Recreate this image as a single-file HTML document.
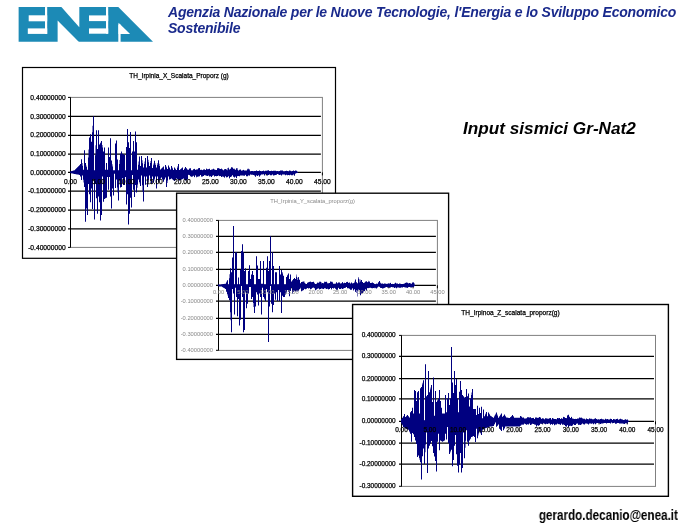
<!DOCTYPE html>
<html><head><meta charset="utf-8"><title>Input sismici Gr-Nat2</title>
<style>
html,body{margin:0;padding:0;background:#fff;}
body{width:700px;height:525px;position:relative;overflow:hidden;font-family:"Liberation Sans",sans-serif;}
.logo{position:absolute;left:0;top:0;}
.hdr{position:absolute;left:168px;top:5.1px;width:520px;font-size:14px;line-height:15.6px;letter-spacing:-0.22px;font-weight:bold;font-style:italic;color:#1a2a8c;white-space:nowrap;}
.ttl{position:absolute;left:463px;top:117.7px;font-size:17.2px;line-height:20px;font-weight:bold;font-style:italic;color:#000;white-space:nowrap;}
.ftr{position:absolute;right:21.7px;top:507.2px;font-size:14px;line-height:16px;font-weight:bold;color:#000;white-space:nowrap;transform:scaleX(0.833);transform-origin:100% 50%;}
.charts{position:absolute;left:0;top:0;}
.hdr,.ttl,.ftr,.charts,.logo{will-change:transform;}
.charts text{font-family:"Liberation Sans",sans-serif;}
</style></head><body>
<svg class="logo" width="160" height="50" viewBox="0 0 160 50">
<path d="M18.6 7.05H118.3L153 41.7H18.6z" fill="#1c8ab6"/>
<g fill="#fff">
<rect x="28.7" y="15.3" width="18.5" height="6"/>
<rect x="27.8" y="28.4" width="19.4" height="5.5"/>
<rect x="45" y="7.05" width="2.2" height="26.85"/>
<path d="M57.6 20.4V42.3H79.2z"/>
<path d="M61.4 7.05H79.3V27.2z"/>
<rect x="89" y="15.4" width="19.2" height="5.7"/>
<rect x="89" y="28.4" width="19.2" height="5.3"/>
<rect x="106" y="7.05" width="2.2" height="26.65"/>
<path d="M118.5 22.7V34.1H130.1z"/>
<rect x="118.3" y="24.5" width="2.3" height="17.8"/>
</g></svg>
<div class="hdr">Agenzia Nazionale per le Nuove Tecnologie, l'Energia e lo Sviluppo Economico<br>Sostenibile</div>
<div class="ttl">Input sismici Gr-Nat2</div>
<svg class="charts" width="700" height="525" viewBox="0 0 700 525">
<rect x="22.5" y="67.5" width="313.0" height="190.8" fill="#fff" stroke="#000" stroke-width="1.20"/>
<rect x="70.5" y="97.4" width="251.9" height="150.0" fill="none" stroke="#808080" stroke-width="1"/>
<line x1="68.0" y1="97.40" x2="70.5" y2="97.40" stroke="#000" stroke-width="1"/>
<text x="65.7" y="99.51" text-anchor="end" font-size="6.70" fill="#000" stroke="#000" stroke-width="0.25">0.40000000</text>
<line x1="68.0" y1="116.40" x2="320.9" y2="116.40" stroke="#000" stroke-width="1.25"/>
<text x="65.7" y="118.51" text-anchor="end" font-size="6.70" fill="#000" stroke="#000" stroke-width="0.25">0.30000000</text>
<line x1="68.0" y1="135.30" x2="320.9" y2="135.30" stroke="#000" stroke-width="1.25"/>
<text x="65.7" y="137.41" text-anchor="end" font-size="6.70" fill="#000" stroke="#000" stroke-width="0.25">0.20000000</text>
<line x1="68.0" y1="154.10" x2="320.9" y2="154.10" stroke="#000" stroke-width="1.25"/>
<text x="65.7" y="156.21" text-anchor="end" font-size="6.70" fill="#000" stroke="#000" stroke-width="0.25">0.10000000</text>
<line x1="68.0" y1="172.40" x2="320.9" y2="172.40" stroke="#000" stroke-width="1.25"/>
<text x="65.7" y="174.51" text-anchor="end" font-size="6.70" fill="#000" stroke="#000" stroke-width="0.25">0.00000000</text>
<line x1="68.0" y1="191.10" x2="320.9" y2="191.10" stroke="#000" stroke-width="1.25"/>
<text x="65.7" y="193.21" text-anchor="end" font-size="6.70" fill="#000" stroke="#000" stroke-width="0.25">-0.10000000</text>
<line x1="68.0" y1="210.00" x2="320.9" y2="210.00" stroke="#000" stroke-width="1.25"/>
<text x="65.7" y="212.11" text-anchor="end" font-size="6.70" fill="#000" stroke="#000" stroke-width="0.25">-0.20000000</text>
<line x1="68.0" y1="228.90" x2="320.9" y2="228.90" stroke="#000" stroke-width="1.25"/>
<text x="65.7" y="231.01" text-anchor="end" font-size="6.70" fill="#000" stroke="#000" stroke-width="0.25">-0.30000000</text>
<line x1="68.0" y1="247.40" x2="70.5" y2="247.40" stroke="#000" stroke-width="1"/>
<text x="65.7" y="249.51" text-anchor="end" font-size="6.70" fill="#000" stroke="#000" stroke-width="0.25">-0.40000000</text>
<line x1="70.5" y1="97.4" x2="70.5" y2="247.4" stroke="#000" stroke-width="1"/>
<line x1="70.50" y1="172.40" x2="70.50" y2="175.40" stroke="#000" stroke-width="1"/>
<line x1="98.49" y1="172.40" x2="98.49" y2="175.40" stroke="#000" stroke-width="1"/>
<line x1="126.48" y1="172.40" x2="126.48" y2="175.40" stroke="#000" stroke-width="1"/>
<line x1="154.47" y1="172.40" x2="154.47" y2="175.40" stroke="#000" stroke-width="1"/>
<line x1="182.46" y1="172.40" x2="182.46" y2="175.40" stroke="#000" stroke-width="1"/>
<line x1="210.44" y1="172.40" x2="210.44" y2="175.40" stroke="#000" stroke-width="1"/>
<line x1="238.43" y1="172.40" x2="238.43" y2="175.40" stroke="#000" stroke-width="1"/>
<line x1="266.42" y1="172.40" x2="266.42" y2="175.40" stroke="#000" stroke-width="1"/>
<line x1="294.41" y1="172.40" x2="294.41" y2="175.40" stroke="#000" stroke-width="1"/>
<line x1="322.40" y1="172.40" x2="322.40" y2="175.40" stroke="#000" stroke-width="1"/>
<text x="179.0" y="78.34" text-anchor="middle" font-size="6.50" fill="#000" stroke="#000" stroke-width="0.25" textLength="99.4" lengthAdjust="spacingAndGlyphs">TH_Irpinia_X_Scalata_Proporz (g)</text>
<path d="M70.0 171.4h0.5V173.1h-0.5zM70.5 171.4h0.5V173.1h-0.5zM71.0 171.2h0.5V173.3h-0.5zM71.5 171.1h0.5V173.4h-0.5zM72.0 170.9h0.5V173.5h-0.5zM72.5 170.8h0.5V173.6h-0.5zM73.0 170.6h0.5V173.7h-0.5zM73.5 170.5h0.5V173.8h-0.5zM74.0 170.3h0.5V173.9h-0.5zM74.5 170.3h0.5V173.9h-0.5zM75.0 169.5h0.5V174.1h-0.5zM75.5 169.0h0.5V174.2h-0.5zM76.0 168.5h0.5V174.3h-0.5zM76.5 168.0h0.5V174.4h-0.5zM77.0 167.5h0.5V174.4h-0.5zM77.5 167.0h0.5V174.5h-0.5zM78.0 166.3h0.5V174.6h-0.5zM78.5 166.3h0.5V174.7h-0.5zM79.0 165.4h0.5V174.9h-0.5zM79.5 164.9h0.5V174.9h-0.5zM80.0 164.0h0.5V176.6h-0.5zM80.5 164.0h0.5V176.6h-0.5zM81.0 159.2h0.5V180.0h-0.5zM81.5 159.2h0.5V180.0h-0.5zM82.0 163.1h0.5V175.4h-0.5zM82.5 165.8h0.5V175.4h-0.5zM83.0 169.7h0.5V179.7h-0.5zM83.5 169.7h0.5V182.6h-0.5zM84.0 150.3h0.5V186.9h-0.5zM84.5 150.3h0.5V186.9h-0.5zM85.0 162.9h0.5V221.7h-0.5zM85.5 162.9h0.5V221.7h-0.5zM86.0 165.4h0.5V208.6h-0.5zM86.5 167.1h0.5V208.6h-0.5zM87.0 169.7h0.5V214.9h-0.5zM87.5 169.7h0.5V214.9h-0.5zM88.0 157.6h0.5V184.0h-0.5zM88.5 149.6h0.5V184.0h-0.5zM89.0 137.5h0.5V194.3h-0.5zM89.5 137.5h0.5V194.3h-0.5zM90.0 134.3h0.5V202.3h-0.5zM90.5 134.3h0.5V202.3h-0.5zM91.0 141.7h0.5V188.6h-0.5zM91.5 141.7h0.5V188.6h-0.5zM92.0 132.2h0.5V209.1h-0.5zM92.5 125.8h0.5V209.1h-0.5zM93.0 116.2h0.5V179.4h-0.5zM93.5 116.2h0.5V179.4h-0.5zM94.0 170.3h0.5V219.4h-0.5zM94.5 170.3h0.5V219.4h-0.5zM95.0 155.3h0.5V184.0h-0.5zM95.5 145.3h0.5V184.0h-0.5zM96.0 130.3h0.5V198.3h-0.5zM96.5 130.3h0.5V198.3h-0.5zM97.0 149.1h0.5V213.7h-0.5zM97.5 149.1h0.5V213.7h-0.5zM98.0 130.3h0.5V196.6h-0.5zM98.5 130.3h0.5V196.6h-0.5zM99.0 144.6h0.5V202.3h-0.5zM99.5 144.6h0.5V202.3h-0.5zM100.0 143.3h0.5V220.6h-0.5zM100.5 142.4h0.5V220.6h-0.5zM101.0 141.1h0.5V214.9h-0.5zM101.5 141.1h0.5V214.9h-0.5zM102.0 145.0h0.5V176.6h-0.5zM102.5 147.6h0.5V176.6h-0.5zM103.0 151.4h0.5V201.7h-0.5zM103.5 151.4h0.5V201.7h-0.5zM104.0 147.4h0.5V198.9h-0.5zM104.5 147.4h0.5V198.9h-0.5zM105.0 169.7h0.5V198.4h-0.5zM105.5 169.7h0.5V198.1h-0.5zM106.0 162.9h0.5V197.7h-0.5zM106.5 162.9h0.5V197.7h-0.5zM107.0 169.7h0.5V177.1h-0.5zM107.5 169.7h0.5V177.1h-0.5zM108.0 147.4h0.5V189.7h-0.5zM108.5 147.4h0.5V189.7h-0.5zM109.0 157.1h0.5V177.1h-0.5zM109.5 157.1h0.5V177.1h-0.5zM110.0 138.3h0.5V196.6h-0.5zM110.5 138.3h0.5V196.6h-0.5zM111.0 160.6h0.5V208.6h-0.5zM111.5 160.6h0.5V208.6h-0.5zM112.0 164.2h0.5V188.6h-0.5zM112.5 166.6h0.5V188.6h-0.5zM113.0 170.3h0.5V195.4h-0.5zM113.5 170.3h0.5V195.4h-0.5zM114.0 170.3h0.5V173.7h-0.5zM114.5 170.3h0.5V173.7h-0.5zM115.0 143.4h0.5V188.0h-0.5zM115.5 143.4h0.5V188.0h-0.5zM116.0 140.6h0.5V179.4h-0.5zM116.5 140.6h0.5V179.4h-0.5zM117.0 159.4h0.5V187.4h-0.5zM117.5 159.4h0.5V192.6h-0.5zM118.0 170.3h0.5V200.6h-0.5zM118.5 170.3h0.5V200.6h-0.5zM119.0 164.1h0.5V180.6h-0.5zM119.5 159.9h0.5V180.6h-0.5zM120.0 153.7h0.5V187.4h-0.5zM120.5 153.7h0.5V187.4h-0.5zM121.0 151.4h0.5V186.9h-0.5zM121.5 151.4h0.5V186.9h-0.5zM122.0 153.7h0.5V178.3h-0.5zM122.5 153.7h0.5V178.3h-0.5zM123.0 154.1h0.5V185.1h-0.5zM123.5 154.4h0.5V185.1h-0.5zM124.0 154.9h0.5V185.1h-0.5zM124.5 154.9h0.5V185.1h-0.5zM125.0 170.3h0.5V177.1h-0.5zM125.5 170.3h0.5V177.1h-0.5zM126.0 146.9h0.5V204.6h-0.5zM126.5 146.9h0.5V204.6h-0.5zM127.0 129.1h0.5V194.3h-0.5zM127.5 129.1h0.5V194.3h-0.5zM128.0 142.3h0.5V224.6h-0.5zM128.5 142.3h0.5V224.6h-0.5zM129.0 148.0h0.5V213.7h-0.5zM129.5 148.0h0.5V213.7h-0.5zM130.0 132.0h0.5V197.7h-0.5zM130.5 132.0h0.5V197.7h-0.5zM131.0 170.3h0.5V207.4h-0.5zM131.5 170.3h0.5V207.4h-0.5zM132.0 151.4h0.5V174.9h-0.5zM132.5 151.4h0.5V174.9h-0.5zM133.0 141.1h0.5V189.7h-0.5zM133.5 141.1h0.5V189.7h-0.5zM134.0 151.4h0.5V197.1h-0.5zM134.5 151.4h0.5V197.1h-0.5zM135.0 131.4h0.5V185.1h-0.5zM135.5 131.4h0.5V185.1h-0.5zM136.0 142.3h0.5V192.6h-0.5zM136.5 142.3h0.5V192.6h-0.5zM137.0 169.7h0.5V187.7h-0.5zM137.5 169.7h0.5V184.4h-0.5zM138.0 164.8h0.5V179.6h-0.5zM138.5 161.5h0.5V179.6h-0.5zM139.0 156.5h0.5V181.9h-0.5zM139.5 156.5h0.5V183.5h-0.5zM140.0 166.0h0.5V185.9h-0.5zM140.5 166.0h0.5V185.9h-0.5zM141.0 156.0h0.5V175.4h-0.5zM141.5 156.0h0.5V175.4h-0.5zM142.0 160.3h0.5V185.2h-0.5zM142.5 163.2h0.5V191.8h-0.5zM143.0 167.5h0.5V201.6h-0.5zM143.5 167.5h0.5V201.6h-0.5zM144.0 164.0h0.5V176.4h-0.5zM144.5 161.6h0.5V176.4h-0.5zM145.0 158.1h0.5V184.8h-0.5zM145.5 158.1h0.5V184.8h-0.5zM146.0 167.5h0.5V176.4h-0.5zM146.5 167.5h0.5V176.4h-0.5zM147.0 156.0h0.5V186.9h-0.5zM147.5 156.0h0.5V186.9h-0.5zM148.0 159.7h0.5V182.6h-0.5zM148.5 162.2h0.5V179.7h-0.5zM149.0 166.0h0.5V175.4h-0.5zM149.5 166.0h0.5V175.4h-0.5zM150.0 163.0h0.5V178.5h-0.5zM150.5 161.0h0.5V180.6h-0.5zM151.0 158.1h0.5V183.8h-0.5zM151.5 158.1h0.5V183.8h-0.5zM152.0 168.0h0.5V176.4h-0.5zM152.5 168.0h0.5V176.4h-0.5zM153.0 165.3h0.5V182.7h-0.5zM153.5 163.5h0.5V182.7h-0.5zM154.0 160.7h0.5V180.4h-0.5zM154.5 160.7h0.5V178.8h-0.5zM155.0 163.3h0.5V176.4h-0.5zM155.5 165.0h0.5V176.4h-0.5zM156.0 167.5h0.5V188.5h-0.5zM156.5 167.5h0.5V188.5h-0.5zM157.0 164.8h0.5V176.4h-0.5zM157.5 162.9h0.5V176.4h-0.5zM158.0 160.2h0.5V181.7h-0.5zM158.5 160.2h0.5V181.7h-0.5zM159.0 163.7h0.5V180.6h-0.5zM159.5 166.1h0.5V179.9h-0.5zM160.0 169.6h0.5V179.2h-0.5zM160.5 169.6h0.5V178.5h-0.5zM161.0 168.8h0.5V177.5h-0.5zM161.5 168.3h0.5V177.5h-0.5zM162.0 167.8h0.5V179.0h-0.5zM162.5 167.3h0.5V180.1h-0.5zM163.0 166.5h0.5V181.7h-0.5zM163.5 166.5h0.5V181.7h-0.5zM164.0 169.6h0.5V180.1h-0.5zM164.5 169.6h0.5V179.0h-0.5zM165.0 164.9h0.5V177.5h-0.5zM165.5 164.9h0.5V177.5h-0.5zM166.0 166.5h0.5V186.9h-0.5zM166.5 167.5h0.5V186.9h-0.5zM167.0 169.1h0.5V183.0h-0.5zM167.5 169.1h0.5V180.4h-0.5zM168.0 165.4h0.5V176.4h-0.5zM168.5 165.4h0.5V176.4h-0.5zM169.0 167.0h0.5V179.6h-0.5zM169.5 168.0h0.5V179.6h-0.5zM170.0 169.6h0.5V179.2h-0.5zM170.5 169.6h0.5V178.9h-0.5zM171.0 166.0h0.5V178.5h-0.5zM171.5 166.0h0.5V178.5h-0.5zM172.0 167.5h0.5V179.2h-0.5zM172.5 168.6h0.5V179.6h-0.5zM173.0 170.1h0.5V180.1h-0.5zM173.5 170.1h0.5V180.5h-0.5zM174.0 167.5h0.5V181.1h-0.5zM174.5 167.5h0.5V181.1h-0.5zM175.0 168.5h0.5V180.2h-0.5zM175.5 169.2h0.5V179.5h-0.5zM176.0 170.1h0.5V178.5h-0.5zM176.5 170.1h0.5V178.5h-0.5zM177.0 167.8h0.5V179.0h-0.5zM177.5 166.2h0.5V179.4h-0.5zM178.0 163.9h0.5V179.7h-0.5zM178.5 163.9h0.5V180.1h-0.5zM179.0 170.1h0.5V180.6h-0.5zM179.5 170.1h0.5V180.6h-0.5zM180.0 169.5h0.5V180.2h-0.5zM180.5 169.1h0.5V180.0h-0.5zM181.0 168.6h0.5V179.7h-0.5zM181.5 168.2h0.5V179.4h-0.5zM182.0 167.5h0.5V179.2h-0.5zM182.5 167.5h0.5V178.9h-0.5zM183.0 170.1h0.5V178.5h-0.5zM183.5 170.1h0.5V178.5h-0.5zM184.0 169.0h0.5V179.3h-0.5zM184.5 168.2h0.5V179.8h-0.5zM185.0 167.0h0.5V180.6h-0.5zM185.5 167.0h0.5V180.6h-0.5zM186.0 168.0h0.5V180.2h-0.5zM186.5 168.6h0.5V180.0h-0.5zM187.0 169.6h0.5V179.6h-0.5zM187.5 169.4h0.5V179.6h-0.5zM188.0 170.1h0.5V174.7h-0.5zM188.5 169.6h0.5V175.0h-0.5zM189.0 168.7h0.5V175.1h-0.5zM189.5 168.3h0.5V175.3h-0.5zM190.0 168.2h0.5V176.1h-0.5zM190.5 168.2h0.5V176.4h-0.5zM191.0 170.0h0.5V176.8h-0.5zM191.5 170.5h0.5V176.8h-0.5zM192.0 170.5h0.5V176.6h-0.5zM192.5 170.0h0.5V176.6h-0.5zM193.0 169.3h0.5V175.7h-0.5zM193.5 169.3h0.5V175.7h-0.5zM194.0 168.8h0.5V177.3h-0.5zM194.5 169.0h0.5V177.1h-0.5zM195.0 169.8h0.5V175.5h-0.5zM195.5 170.0h0.5V175.2h-0.5zM196.0 169.6h0.5V176.7h-0.5zM196.5 169.6h0.5V177.5h-0.5zM197.0 169.5h0.5V176.6h-0.5zM197.5 169.3h0.5V177.0h-0.5zM198.0 168.4h0.5V176.4h-0.5zM198.5 168.1h0.5V176.4h-0.5zM199.0 168.1h0.5V176.4h-0.5zM199.5 168.1h0.5V176.0h-0.5zM200.0 169.7h0.5V175.0h-0.5zM200.5 169.9h0.5V175.0h-0.5zM201.0 169.7h0.5V176.6h-0.5zM201.5 169.8h0.5V176.8h-0.5zM202.0 170.1h0.5V176.5h-0.5zM202.5 170.3h0.5V176.5h-0.5zM203.0 169.6h0.5V175.9h-0.5zM203.5 169.4h0.5V175.9h-0.5zM204.0 169.4h0.5V175.2h-0.5zM204.5 169.3h0.5V175.1h-0.5zM205.0 170.1h0.5V175.4h-0.5zM205.5 170.0h0.5V175.3h-0.5zM206.0 168.7h0.5V175.7h-0.5zM206.5 168.6h0.5V175.7h-0.5zM207.0 169.2h0.5V175.9h-0.5zM207.5 169.2h0.5V175.9h-0.5zM208.0 169.1h0.5V175.5h-0.5zM208.5 169.2h0.5V175.5h-0.5zM209.0 168.7h0.5V176.4h-0.5zM209.5 168.8h0.5V176.4h-0.5zM210.0 169.9h0.5V176.2h-0.5zM210.5 170.0h0.5V176.3h-0.5zM211.0 169.6h0.5V177.0h-0.5zM211.5 169.8h0.5V177.1h-0.5zM212.0 169.5h0.5V175.8h-0.5zM212.5 169.3h0.5V175.7h-0.5zM213.0 168.8h0.5V175.3h-0.5zM213.5 168.7h0.5V175.3h-0.5zM214.0 169.6h0.5V176.6h-0.5zM214.5 169.5h0.5V176.6h-0.5zM215.0 169.9h0.5V176.0h-0.5zM215.5 169.8h0.5V175.9h-0.5zM216.0 170.0h0.5V176.2h-0.5zM216.5 169.9h0.5V176.2h-0.5zM217.0 168.3h0.5V175.9h-0.5zM217.5 168.3h0.5V175.9h-0.5zM218.0 168.1h0.5V175.5h-0.5zM218.5 168.2h0.5V175.5h-0.5zM219.0 168.6h0.5V176.1h-0.5zM219.5 168.7h0.5V176.2h-0.5zM220.0 169.0h0.5V175.9h-0.5zM220.5 169.0h0.5V176.0h-0.5zM221.0 168.6h0.5V177.0h-0.5zM221.5 168.7h0.5V177.1h-0.5zM222.0 169.4h0.5V176.5h-0.5zM222.5 169.5h0.5V176.6h-0.5zM223.0 170.2h0.5V176.7h-0.5zM223.5 170.2h0.5V176.7h-0.5zM224.0 169.2h0.5V177.6h-0.5zM224.5 169.2h0.5V177.8h-0.5zM225.0 168.9h0.5V176.2h-0.5zM225.5 168.9h0.5V176.3h-0.5zM226.0 169.6h0.5V177.3h-0.5zM226.5 169.6h0.5V177.5h-0.5zM227.0 170.2h0.5V177.0h-0.5zM227.5 168.0h0.5V177.2h-0.5zM228.0 167.5h0.5V176.2h-0.5zM228.5 168.2h0.5V176.3h-0.5zM229.0 169.4h0.5V178.3h-0.5zM229.5 169.4h0.5V178.5h-0.5zM230.0 168.9h0.5V177.0h-0.5zM230.5 168.4h0.5V177.0h-0.5zM231.0 167.6h0.5V176.5h-0.5zM231.5 167.1h0.5V176.5h-0.5zM232.0 167.4h0.5V175.2h-0.5zM232.5 167.4h0.5V175.2h-0.5zM233.0 168.7h0.5V176.5h-0.5zM233.5 168.7h0.5V176.9h-0.5zM234.0 168.6h0.5V177.2h-0.5zM234.5 169.3h0.5V177.7h-0.5zM235.0 170.1h0.5V176.6h-0.5zM235.5 169.4h0.5V176.7h-0.5zM236.0 168.2h0.5V178.1h-0.5zM236.5 168.2h0.5V178.3h-0.5zM237.0 168.1h0.5V176.3h-0.5zM237.5 169.8h0.5V176.1h-0.5zM238.0 170.7h0.5V176.1h-0.5zM238.5 170.3h0.5V175.9h-0.5zM239.0 169.8h0.5V176.2h-0.5zM239.5 169.8h0.5V176.2h-0.5zM240.0 169.4h0.5V175.5h-0.5zM240.5 169.6h0.5V175.4h-0.5zM241.0 170.6h0.5V175.6h-0.5zM241.5 170.7h0.5V175.5h-0.5zM242.0 170.3h0.5V175.6h-0.5zM242.5 170.5h0.5V175.4h-0.5zM243.0 169.8h0.5V175.6h-0.5zM243.5 169.9h0.5V175.7h-0.5zM244.0 170.5h0.5V175.7h-0.5zM244.5 170.6h0.5V175.8h-0.5zM245.0 170.5h0.5V174.8h-0.5zM245.5 170.6h0.5V174.9h-0.5zM246.0 170.4h0.5V176.3h-0.5zM246.5 170.4h0.5V176.3h-0.5zM247.0 169.4h0.5V176.2h-0.5zM247.5 168.8h0.5V176.2h-0.5zM248.0 169.2h0.5V175.4h-0.5zM248.5 168.4h0.5V175.3h-0.5zM249.0 169.1h0.5V175.7h-0.5zM249.5 170.2h0.5V175.6h-0.5zM250.0 171.2h0.5V174.6h-0.5zM250.5 171.2h0.5V174.6h-0.5zM251.0 171.1h0.5V174.7h-0.5zM251.5 171.0h0.5V174.8h-0.5zM252.0 170.9h0.5V174.7h-0.5zM252.5 170.9h0.5V174.7h-0.5zM253.0 171.2h0.5V175.0h-0.5zM253.5 171.2h0.5V175.0h-0.5zM254.0 171.1h0.5V175.5h-0.5zM254.5 171.1h0.5V175.6h-0.5zM255.0 171.1h0.5V176.7h-0.5zM255.5 171.1h0.5V176.8h-0.5zM256.0 170.5h0.5V175.3h-0.5zM256.5 170.5h0.5V175.4h-0.5zM257.0 170.9h0.5V175.9h-0.5zM257.5 170.9h0.5V175.9h-0.5zM258.0 170.9h0.5V175.3h-0.5zM258.5 170.9h0.5V175.2h-0.5zM259.0 170.5h0.5V176.7h-0.5zM259.5 170.5h0.5V176.5h-0.5zM260.0 170.9h0.5V175.4h-0.5zM260.5 170.9h0.5V175.3h-0.5zM261.0 171.3h0.5V174.5h-0.5zM261.5 171.3h0.5V174.4h-0.5zM262.0 171.1h0.5V174.5h-0.5zM262.5 171.1h0.5V174.5h-0.5zM263.0 170.7h0.5V174.3h-0.5zM263.5 170.6h0.5V174.3h-0.5zM264.0 171.3h0.5V175.4h-0.5zM264.5 171.3h0.5V175.4h-0.5zM265.0 170.8h0.5V174.3h-0.5zM265.5 170.7h0.5V174.3h-0.5zM266.0 170.7h0.5V174.1h-0.5zM266.5 170.7h0.5V174.1h-0.5zM267.0 170.6h0.5V175.4h-0.5zM267.5 170.6h0.5V175.4h-0.5zM268.0 170.2h0.5V175.1h-0.5zM268.5 170.3h0.5V175.1h-0.5zM269.0 170.9h0.5V174.6h-0.5zM269.5 171.0h0.5V174.6h-0.5zM270.0 171.1h0.5V175.2h-0.5zM270.5 171.1h0.5V175.2h-0.5zM271.0 170.8h0.5V175.2h-0.5zM271.5 170.8h0.5V175.2h-0.5zM272.0 171.1h0.5V174.4h-0.5zM272.5 171.1h0.5V174.4h-0.5zM273.0 170.8h0.5V175.5h-0.5zM273.5 170.8h0.5V175.5h-0.5zM274.0 170.7h0.5V175.2h-0.5zM274.5 170.7h0.5V175.2h-0.5zM275.0 170.7h0.5V175.1h-0.5zM275.5 170.7h0.5V175.1h-0.5zM276.0 171.2h0.5V174.8h-0.5zM276.5 171.1h0.5V174.8h-0.5zM277.0 171.0h0.5V174.1h-0.5zM277.5 171.0h0.5V174.1h-0.5zM278.0 171.3h0.5V174.5h-0.5zM278.5 171.3h0.5V174.5h-0.5zM279.0 171.0h0.5V175.1h-0.5zM279.5 171.0h0.5V175.1h-0.5zM280.0 170.4h0.5V174.7h-0.5zM280.5 170.5h0.5V174.7h-0.5zM281.0 170.5h0.5V175.5h-0.5zM281.5 170.6h0.5V175.5h-0.5zM282.0 170.6h0.5V174.6h-0.5zM282.5 170.6h0.5V174.6h-0.5zM283.0 171.2h0.5V174.4h-0.5zM283.5 171.3h0.5V174.4h-0.5zM284.0 171.3h0.5V174.4h-0.5zM284.5 171.3h0.5V174.4h-0.5zM285.0 171.0h0.5V175.3h-0.5zM285.5 171.0h0.5V175.3h-0.5zM286.0 170.8h0.5V174.8h-0.5zM286.5 170.8h0.5V174.8h-0.5zM287.0 170.9h0.5V175.2h-0.5zM287.5 170.9h0.5V175.2h-0.5zM288.0 171.3h0.5V175.0h-0.5zM288.5 171.3h0.5V175.0h-0.5zM289.0 170.6h0.5V175.2h-0.5zM289.5 170.6h0.5V175.2h-0.5zM290.0 170.7h0.5V174.8h-0.5zM290.5 170.7h0.5V174.8h-0.5zM291.0 171.2h0.5V175.2h-0.5zM291.5 171.2h0.5V175.2h-0.5zM292.0 171.0h0.5V175.2h-0.5zM292.5 171.0h0.5V175.2h-0.5zM293.0 170.4h0.5V174.6h-0.5zM293.5 170.4h0.5V174.6h-0.5zM294.0 170.9h0.5V175.4h-0.5zM294.5 170.9h0.5V175.4h-0.5zM295.0 170.6h0.5V173.8h-0.5zM295.5 170.6h0.5V173.5h-0.5zM296.0 170.8h0.5V173.2h-0.5zM296.5 170.8h0.5V173.0h-0.5zM297.0 171.8h0.5V173.0h-0.5zM297.5 171.8h0.5V173.0h-0.5z" fill="#000080"/>
<text x="70.50" y="183.81" text-anchor="middle" font-size="6.70" fill="#000" stroke="#000" stroke-width="0.25">0.00</text>
<text x="98.49" y="183.81" text-anchor="middle" font-size="6.70" fill="#000" stroke="#000" stroke-width="0.25">5.00</text>
<text x="126.48" y="183.81" text-anchor="middle" font-size="6.70" fill="#000" stroke="#000" stroke-width="0.25">10.00</text>
<text x="154.47" y="183.81" text-anchor="middle" font-size="6.70" fill="#000" stroke="#000" stroke-width="0.25">15.00</text>
<text x="182.46" y="183.81" text-anchor="middle" font-size="6.70" fill="#000" stroke="#000" stroke-width="0.25">20.00</text>
<text x="210.44" y="183.81" text-anchor="middle" font-size="6.70" fill="#000" stroke="#000" stroke-width="0.25">25.00</text>
<text x="238.43" y="183.81" text-anchor="middle" font-size="6.70" fill="#000" stroke="#000" stroke-width="0.25">30.00</text>
<text x="266.42" y="183.81" text-anchor="middle" font-size="6.70" fill="#000" stroke="#000" stroke-width="0.25">35.00</text>
<text x="294.41" y="183.81" text-anchor="middle" font-size="6.70" fill="#000" stroke="#000" stroke-width="0.25">40.00</text>
<text x="322.40" y="183.81" text-anchor="middle" font-size="6.70" fill="#000" stroke="#000" stroke-width="0.25">45.00</text>
<rect x="176.6" y="193.2" width="272.0" height="166.2" fill="#fff" stroke="#000" stroke-width="1.35"/>
<rect x="218.5" y="220.4" width="218.9" height="130.0" fill="none" stroke="#808080" stroke-width="1"/>
<line x1="216.0" y1="220.40" x2="218.5" y2="220.40" stroke="#000" stroke-width="1"/>
<text x="213.0" y="222.17" text-anchor="end" font-size="5.75" fill="#888">0.40000000</text>
<line x1="216.0" y1="236.40" x2="435.9" y2="236.40" stroke="#000" stroke-width="1.25"/>
<text x="213.0" y="238.17" text-anchor="end" font-size="5.75" fill="#888">0.30000000</text>
<line x1="216.0" y1="252.30" x2="435.9" y2="252.30" stroke="#000" stroke-width="1.25"/>
<text x="213.0" y="254.07" text-anchor="end" font-size="5.75" fill="#888">0.20000000</text>
<line x1="216.0" y1="269.30" x2="435.9" y2="269.30" stroke="#000" stroke-width="1.25"/>
<text x="213.0" y="271.07" text-anchor="end" font-size="5.75" fill="#888">0.10000000</text>
<line x1="216.0" y1="285.30" x2="435.9" y2="285.30" stroke="#000" stroke-width="1.25"/>
<text x="213.0" y="287.07" text-anchor="end" font-size="5.75" fill="#888">0.00000000</text>
<line x1="216.0" y1="301.20" x2="435.9" y2="301.20" stroke="#000" stroke-width="1.25"/>
<text x="213.0" y="302.97" text-anchor="end" font-size="5.75" fill="#888">-0.10000000</text>
<line x1="216.0" y1="318.40" x2="435.9" y2="318.40" stroke="#000" stroke-width="1.25"/>
<text x="213.0" y="320.17" text-anchor="end" font-size="5.75" fill="#888">-0.20000000</text>
<line x1="216.0" y1="334.30" x2="435.9" y2="334.30" stroke="#000" stroke-width="1.25"/>
<text x="213.0" y="336.07" text-anchor="end" font-size="5.75" fill="#888">-0.30000000</text>
<line x1="216.0" y1="350.30" x2="218.5" y2="350.30" stroke="#000" stroke-width="1"/>
<text x="213.0" y="352.07" text-anchor="end" font-size="5.75" fill="#888">-0.40000000</text>
<line x1="218.5" y1="220.4" x2="218.5" y2="350.4" stroke="#000" stroke-width="1"/>
<line x1="218.50" y1="285.30" x2="218.50" y2="288.30" stroke="#000" stroke-width="1"/>
<line x1="242.82" y1="285.30" x2="242.82" y2="288.30" stroke="#000" stroke-width="1"/>
<line x1="267.14" y1="285.30" x2="267.14" y2="288.30" stroke="#000" stroke-width="1"/>
<line x1="291.47" y1="285.30" x2="291.47" y2="288.30" stroke="#000" stroke-width="1"/>
<line x1="315.79" y1="285.30" x2="315.79" y2="288.30" stroke="#000" stroke-width="1"/>
<line x1="340.11" y1="285.30" x2="340.11" y2="288.30" stroke="#000" stroke-width="1"/>
<line x1="364.43" y1="285.30" x2="364.43" y2="288.30" stroke="#000" stroke-width="1"/>
<line x1="388.76" y1="285.30" x2="388.76" y2="288.30" stroke="#000" stroke-width="1"/>
<line x1="413.08" y1="285.30" x2="413.08" y2="288.30" stroke="#000" stroke-width="1"/>
<line x1="437.40" y1="285.30" x2="437.40" y2="288.30" stroke="#000" stroke-width="1"/>
<text x="312.6" y="203.09" text-anchor="middle" font-size="5.80" fill="#888" textLength="84.7" lengthAdjust="spacingAndGlyphs">TH_Irpinia_Y_scalata_proporz(g)</text>
<path d="M218.0 284.6h0.5V286.3h-0.5zM218.5 284.6h0.5V286.3h-0.5zM219.0 284.5h0.5V286.4h-0.5zM219.5 284.5h0.5V286.4h-0.5zM220.0 284.4h0.5V286.5h-0.5zM220.5 284.4h0.5V286.5h-0.5zM221.0 284.3h0.5V286.6h-0.5zM221.5 284.3h0.5V286.6h-0.5zM222.0 284.2h0.5V287.0h-0.5zM222.5 284.1h0.5V287.3h-0.5zM223.0 284.0h0.5V287.6h-0.5zM223.5 284.0h0.5V287.9h-0.5zM224.0 283.9h0.5V288.1h-0.5zM224.5 283.8h0.5V288.4h-0.5zM225.0 283.7h0.5V288.9h-0.5zM225.5 283.7h0.5V288.9h-0.5zM226.0 282.4h0.5V291.7h-0.5zM226.5 281.6h0.5V291.7h-0.5zM227.0 280.3h0.5V294.1h-0.5zM227.5 280.3h0.5V295.6h-0.5zM228.0 284.3h0.5V298.0h-0.5zM228.5 284.3h0.5V298.0h-0.5zM229.0 278.3h0.5V300.3h-0.5zM229.5 274.3h0.5V300.3h-0.5zM230.0 268.3h0.5V312.3h-0.5zM230.5 268.3h0.5V320.3h-0.5zM231.0 272.3h0.5V332.3h-0.5zM231.5 272.3h0.5V332.3h-0.5zM232.0 257.4h0.5V288.9h-0.5zM232.5 257.4h0.5V288.9h-0.5zM233.0 226.0h0.5V293.4h-0.5zM233.5 226.0h0.5V293.4h-0.5zM234.0 284.3h0.5V314.6h-0.5zM234.5 284.3h0.5V314.6h-0.5zM235.0 252.3h0.5V287.7h-0.5zM235.5 252.3h0.5V287.7h-0.5zM236.0 252.3h0.5V296.9h-0.5zM236.5 252.3h0.5V296.9h-0.5zM237.0 284.3h0.5V316.3h-0.5zM237.5 284.3h0.5V316.3h-0.5zM238.0 277.4h0.5V299.1h-0.5zM238.5 277.4h0.5V299.1h-0.5zM239.0 284.3h0.5V325.4h-0.5zM239.5 284.3h0.5V325.4h-0.5zM240.0 270.0h0.5V319.7h-0.5zM240.5 270.0h0.5V319.7h-0.5zM241.0 251.1h0.5V286.0h-0.5zM241.5 251.1h0.5V286.0h-0.5zM242.0 244.3h0.5V296.9h-0.5zM242.5 244.3h0.5V296.9h-0.5zM243.0 252.3h0.5V332.3h-0.5zM243.5 252.3h0.5V332.3h-0.5zM244.0 271.1h0.5V330.0h-0.5zM244.5 271.1h0.5V330.0h-0.5zM245.0 268.3h0.5V292.3h-0.5zM245.5 268.3h0.5V292.3h-0.5zM246.0 284.3h0.5V308.3h-0.5zM246.5 284.3h0.5V308.3h-0.5zM247.0 284.3h0.5V303.7h-0.5zM247.5 284.3h0.5V303.7h-0.5zM248.0 271.1h0.5V293.4h-0.5zM248.5 271.1h0.5V293.4h-0.5zM249.0 265.2h0.5V287.1h-0.5zM249.5 265.2h0.5V287.1h-0.5zM250.0 279.1h0.5V287.1h-0.5zM250.5 279.1h0.5V287.1h-0.5zM251.0 274.6h0.5V299.1h-0.5zM251.5 274.6h0.5V299.1h-0.5zM252.0 271.1h0.5V296.9h-0.5zM252.5 271.1h0.5V296.9h-0.5zM253.0 275.1h0.5V302.9h-0.5zM253.5 275.1h0.5V306.9h-0.5zM254.0 284.3h0.5V312.9h-0.5zM254.5 284.3h0.5V312.9h-0.5zM255.0 284.3h0.5V306.6h-0.5zM255.5 284.3h0.5V306.6h-0.5zM256.0 256.3h0.5V292.3h-0.5zM256.5 256.3h0.5V292.3h-0.5zM257.0 265.4h0.5V294.6h-0.5zM257.5 265.4h0.5V294.6h-0.5zM258.0 279.1h0.5V305.4h-0.5zM258.5 279.1h0.5V305.4h-0.5zM259.0 279.1h0.5V293.4h-0.5zM259.5 279.1h0.5V293.4h-0.5zM260.0 260.9h0.5V296.9h-0.5zM260.5 260.9h0.5V296.9h-0.5zM261.0 283.7h0.5V314.6h-0.5zM261.5 283.7h0.5V314.6h-0.5zM262.0 283.7h0.5V287.7h-0.5zM262.5 283.7h0.5V287.7h-0.5zM263.0 260.9h0.5V296.9h-0.5zM263.5 260.9h0.5V296.9h-0.5zM264.0 284.3h0.5V298.4h-0.5zM264.5 284.3h0.5V299.4h-0.5zM265.0 284.3h0.5V300.9h-0.5zM265.5 284.3h0.5V300.9h-0.5zM266.0 267.7h0.5V288.9h-0.5zM266.5 267.7h0.5V288.9h-0.5zM267.0 256.3h0.5V292.3h-0.5zM267.5 256.3h0.5V292.3h-0.5zM268.0 271.1h0.5V342.0h-0.5zM268.5 271.1h0.5V342.0h-0.5zM269.0 260.9h0.5V306.6h-0.5zM269.5 260.9h0.5V306.6h-0.5zM270.0 236.3h0.5V286.0h-0.5zM270.5 236.3h0.5V286.0h-0.5zM271.0 284.3h0.5V303.7h-0.5zM271.5 284.3h0.5V303.7h-0.5zM272.0 252.3h0.5V312.3h-0.5zM272.5 252.3h0.5V312.3h-0.5zM273.0 266.0h0.5V304.9h-0.5zM273.5 266.0h0.5V304.9h-0.5zM274.0 284.3h0.5V293.4h-0.5zM274.5 284.3h0.5V293.4h-0.5zM275.0 272.3h0.5V299.7h-0.5zM275.5 272.3h0.5V299.7h-0.5zM276.0 272.3h0.5V292.3h-0.5zM276.5 272.3h0.5V292.3h-0.5zM277.0 284.3h0.5V300.9h-0.5zM277.5 284.3h0.5V300.9h-0.5zM278.0 284.3h0.5V290.0h-0.5zM278.5 284.3h0.5V290.0h-0.5zM279.0 266.0h0.5V300.9h-0.5zM279.5 266.0h0.5V300.9h-0.5zM280.0 274.6h0.5V292.3h-0.5zM280.5 274.6h0.5V292.3h-0.5zM281.0 270.0h0.5V312.9h-0.5zM281.5 270.0h0.5V312.9h-0.5zM282.0 272.1h0.5V295.7h-0.5zM282.5 273.6h0.5V295.7h-0.5zM283.0 275.7h0.5V296.9h-0.5zM283.5 275.7h0.5V296.9h-0.5zM284.0 284.3h0.5V296.9h-0.5zM284.5 284.3h0.5V296.9h-0.5zM285.0 284.3h0.5V294.6h-0.5zM285.5 284.3h0.5V294.6h-0.5zM286.0 276.9h0.5V292.9h-0.5zM286.5 276.9h0.5V291.7h-0.5zM287.0 275.6h0.5V290.0h-0.5zM287.5 274.7h0.5V290.0h-0.5zM288.0 273.4h0.5V291.7h-0.5zM288.5 273.4h0.5V291.7h-0.5zM289.0 279.1h0.5V296.3h-0.5zM289.5 279.1h0.5V296.3h-0.5zM290.0 274.6h0.5V291.1h-0.5zM290.5 274.6h0.5V291.1h-0.5zM291.0 281.4h0.5V287.7h-0.5zM291.5 281.4h0.5V287.7h-0.5zM292.0 280.6h0.5V293.4h-0.5zM292.5 280.0h0.5V293.4h-0.5zM293.0 279.1h0.5V291.7h-0.5zM293.5 279.1h0.5V291.7h-0.5zM294.0 278.0h0.5V291.1h-0.5zM294.5 278.0h0.5V291.1h-0.5zM295.0 279.0h0.5V291.6h-0.5zM295.5 279.0h0.5V291.6h-0.5zM296.0 276.7h0.5V291.3h-0.5zM296.5 274.4h0.5V291.3h-0.5zM297.0 277.8h0.5V291.4h-0.5zM297.5 280.1h0.5V291.3h-0.5zM298.0 277.0h0.5V290.7h-0.5zM298.5 277.3h0.5V290.7h-0.5zM299.0 279.8h0.5V289.5h-0.5zM299.5 279.8h0.5V288.9h-0.5zM300.0 283.3h0.5V287.8h-0.5zM300.5 283.3h0.5V288.7h-0.5zM301.0 282.1h0.5V291.2h-0.5zM301.5 282.1h0.5V291.2h-0.5zM302.0 281.8h0.5V291.1h-0.5zM302.5 281.8h0.5V290.3h-0.5zM303.0 281.5h0.5V290.1h-0.5zM303.5 281.5h0.5V290.3h-0.5zM304.0 281.6h0.5V288.8h-0.5zM304.5 282.9h0.5V288.9h-0.5zM305.0 283.6h0.5V289.2h-0.5zM305.5 283.8h0.5V289.2h-0.5zM306.0 284.0h0.5V289.1h-0.5zM306.5 284.0h0.5V288.4h-0.5zM307.0 282.7h0.5V288.1h-0.5zM307.5 282.7h0.5V287.9h-0.5zM308.0 282.2h0.5V288.4h-0.5zM308.5 282.2h0.5V288.4h-0.5zM309.0 281.8h0.5V288.0h-0.5zM309.5 281.9h0.5V288.2h-0.5zM310.0 281.6h0.5V289.3h-0.5zM310.5 281.8h0.5V289.3h-0.5zM311.0 282.2h0.5V288.9h-0.5zM311.5 282.1h0.5V288.4h-0.5zM312.0 281.9h0.5V287.8h-0.5zM312.5 281.9h0.5V288.1h-0.5zM313.0 281.8h0.5V287.5h-0.5zM313.5 281.8h0.5V287.8h-0.5zM314.0 282.7h0.5V288.1h-0.5zM314.5 283.4h0.5V288.4h-0.5zM315.0 283.9h0.5V290.0h-0.5zM315.5 283.9h0.5V290.5h-0.5zM316.0 283.7h0.5V289.7h-0.5zM316.5 283.7h0.5V289.2h-0.5zM317.0 282.8h0.5V288.9h-0.5zM317.5 282.5h0.5V288.4h-0.5zM318.0 282.9h0.5V288.3h-0.5zM318.5 282.6h0.5V288.6h-0.5zM319.0 282.2h0.5V289.2h-0.5zM319.5 281.5h0.5V289.6h-0.5zM320.0 281.8h0.5V289.1h-0.5zM320.5 281.8h0.5V289.0h-0.5zM321.0 282.2h0.5V288.4h-0.5zM321.5 283.6h0.5V288.4h-0.5zM322.0 283.0h0.5V288.8h-0.5zM322.5 283.0h0.5V288.8h-0.5zM323.0 283.2h0.5V289.1h-0.5zM323.5 283.2h0.5V289.0h-0.5zM324.0 282.2h0.5V288.3h-0.5zM324.5 281.6h0.5V288.2h-0.5zM325.0 282.1h0.5V288.3h-0.5zM325.5 281.8h0.5V288.4h-0.5zM326.0 281.8h0.5V288.9h-0.5zM326.5 281.8h0.5V289.0h-0.5zM327.0 282.7h0.5V288.8h-0.5zM327.5 283.4h0.5V288.8h-0.5zM328.0 283.3h0.5V289.5h-0.5zM328.5 283.3h0.5V289.3h-0.5zM329.0 283.1h0.5V289.1h-0.5zM329.5 283.1h0.5V288.9h-0.5zM330.0 281.5h0.5V287.9h-0.5zM330.5 281.5h0.5V288.0h-0.5zM331.0 281.7h0.5V289.3h-0.5zM331.5 281.7h0.5V289.4h-0.5zM332.0 281.8h0.5V288.0h-0.5zM332.5 282.4h0.5V288.0h-0.5zM333.0 283.7h0.5V288.5h-0.5zM333.5 283.7h0.5V288.4h-0.5zM334.0 283.8h0.5V288.0h-0.5zM334.5 283.8h0.5V287.8h-0.5zM335.0 283.8h0.5V288.6h-0.5zM335.5 283.6h0.5V288.9h-0.5zM336.0 282.2h0.5V289.6h-0.5zM336.5 282.2h0.5V289.9h-0.5zM337.0 283.2h0.5V289.8h-0.5zM337.5 283.2h0.5V289.8h-0.5zM338.0 282.6h0.5V288.0h-0.5zM338.5 282.6h0.5V287.7h-0.5zM339.0 282.5h0.5V289.1h-0.5zM339.5 282.6h0.5V289.1h-0.5zM340.0 283.6h0.5V289.0h-0.5zM340.5 283.6h0.5V289.0h-0.5zM341.0 283.3h0.5V288.3h-0.5zM341.5 283.2h0.5V288.4h-0.5zM342.0 282.3h0.5V289.0h-0.5zM342.5 282.1h0.5V289.1h-0.5zM343.0 283.3h0.5V288.4h-0.5zM343.5 283.2h0.5V288.4h-0.5zM344.0 282.7h0.5V288.1h-0.5zM344.5 282.7h0.5V288.0h-0.5zM345.0 283.1h0.5V287.8h-0.5zM345.5 283.1h0.5V287.7h-0.5zM346.0 282.3h0.5V287.1h-0.5zM346.5 281.9h0.5V287.1h-0.5zM347.0 282.0h0.5V288.1h-0.5zM347.5 281.7h0.5V288.5h-0.5zM348.0 282.8h0.5V288.3h-0.5zM348.5 283.0h0.5V288.3h-0.5zM349.0 282.3h0.5V288.7h-0.5zM349.5 282.8h0.5V288.8h-0.5zM350.0 283.6h0.5V289.7h-0.5zM350.5 283.5h0.5V289.7h-0.5zM351.0 282.5h0.5V289.7h-0.5zM351.5 282.4h0.5V289.7h-0.5zM352.0 283.4h0.5V288.3h-0.5zM352.5 283.2h0.5V288.6h-0.5zM353.0 283.2h0.5V290.2h-0.5zM353.5 283.1h0.5V290.5h-0.5zM354.0 282.7h0.5V289.2h-0.5zM354.5 281.4h0.5V289.2h-0.5zM355.0 279.6h0.5V291.8h-0.5zM355.5 279.6h0.5V292.0h-0.5zM356.0 282.3h0.5V290.0h-0.5zM356.5 282.3h0.5V293.0h-0.5zM357.0 283.3h0.5V296.4h-0.5zM357.5 283.3h0.5V290.8h-0.5zM358.0 278.6h0.5V290.3h-0.5zM358.5 277.0h0.5V289.2h-0.5zM359.0 279.2h0.5V290.1h-0.5zM359.5 282.6h0.5V290.1h-0.5zM360.0 281.4h0.5V295.3h-0.5zM360.5 279.4h0.5V295.3h-0.5zM361.0 280.0h0.5V293.4h-0.5zM361.5 280.0h0.5V293.4h-0.5zM362.0 282.1h0.5V292.9h-0.5zM362.5 282.1h0.5V292.9h-0.5zM363.0 283.0h0.5V292.2h-0.5zM363.5 283.0h0.5V291.3h-0.5zM364.0 282.8h0.5V291.3h-0.5zM364.5 282.5h0.5V291.1h-0.5zM365.0 281.7h0.5V289.5h-0.5zM365.5 281.5h0.5V289.3h-0.5zM366.0 281.2h0.5V290.9h-0.5zM366.5 281.2h0.5V290.4h-0.5zM367.0 282.1h0.5V288.3h-0.5zM367.5 282.3h0.5V288.0h-0.5zM368.0 281.8h0.5V288.2h-0.5zM368.5 280.8h0.5V288.1h-0.5zM369.0 281.4h0.5V287.9h-0.5zM369.5 281.4h0.5V287.8h-0.5zM370.0 283.1h0.5V287.8h-0.5zM370.5 283.1h0.5V287.8h-0.5zM371.0 282.8h0.5V288.1h-0.5zM371.5 282.9h0.5V288.2h-0.5zM372.0 282.4h0.5V288.3h-0.5zM372.5 282.4h0.5V288.3h-0.5zM373.0 283.0h0.5V288.1h-0.5zM373.5 283.3h0.5V288.1h-0.5zM374.0 283.7h0.5V287.8h-0.5zM374.5 283.9h0.5V288.2h-0.5zM375.0 284.0h0.5V288.2h-0.5zM375.5 284.3h0.5V287.7h-0.5zM376.0 283.8h0.5V288.4h-0.5zM376.5 283.6h0.5V288.4h-0.5zM377.0 284.1h0.5V287.7h-0.5zM377.5 283.6h0.5V287.2h-0.5zM378.0 282.2h0.5V286.8h-0.5zM378.5 282.2h0.5V286.4h-0.5zM379.0 280.9h0.5V286.7h-0.5zM379.5 280.9h0.5V287.0h-0.5zM380.0 282.4h0.5V287.8h-0.5zM380.5 283.3h0.5V288.1h-0.5zM381.0 283.4h0.5V288.0h-0.5zM381.5 283.7h0.5V288.0h-0.5zM382.0 283.6h0.5V288.6h-0.5zM382.5 283.6h0.5V288.6h-0.5zM383.0 283.9h0.5V288.2h-0.5zM383.5 283.8h0.5V288.2h-0.5zM384.0 283.5h0.5V287.9h-0.5zM384.5 283.4h0.5V287.8h-0.5zM385.0 283.7h0.5V287.4h-0.5zM385.5 283.6h0.5V287.3h-0.5zM386.0 283.9h0.5V287.0h-0.5zM386.5 283.8h0.5V286.9h-0.5zM387.0 283.8h0.5V287.5h-0.5zM387.5 283.7h0.5V287.5h-0.5zM388.0 283.4h0.5V286.9h-0.5zM388.5 283.3h0.5V286.9h-0.5zM389.0 283.4h0.5V287.7h-0.5zM389.5 283.4h0.5V287.7h-0.5zM390.0 282.7h0.5V287.5h-0.5zM390.5 283.0h0.5V287.5h-0.5zM391.0 284.0h0.5V287.0h-0.5zM391.5 284.0h0.5V287.0h-0.5zM392.0 283.9h0.5V287.2h-0.5zM392.5 283.8h0.5V287.2h-0.5zM393.0 283.9h0.5V287.2h-0.5zM393.5 283.9h0.5V287.3h-0.5zM394.0 283.7h0.5V288.0h-0.5zM394.5 283.6h0.5V288.0h-0.5zM395.0 282.8h0.5V287.5h-0.5zM395.5 282.8h0.5V287.6h-0.5zM396.0 283.6h0.5V288.2h-0.5zM396.5 283.6h0.5V288.2h-0.5zM397.0 283.5h0.5V287.5h-0.5zM397.5 283.5h0.5V287.5h-0.5zM398.0 283.9h0.5V287.6h-0.5zM398.5 283.9h0.5V287.6h-0.5zM399.0 283.4h0.5V287.8h-0.5zM399.5 283.4h0.5V287.7h-0.5zM400.0 283.8h0.5V287.7h-0.5zM400.5 283.8h0.5V287.7h-0.5zM401.0 284.0h0.5V287.4h-0.5zM401.5 284.1h0.5V287.3h-0.5zM402.0 284.0h0.5V287.5h-0.5zM402.5 283.9h0.5V287.5h-0.5zM403.0 283.9h0.5V287.0h-0.5zM403.5 283.8h0.5V287.0h-0.5zM404.0 283.4h0.5V287.2h-0.5zM404.5 283.4h0.5V287.2h-0.5zM405.0 282.9h0.5V287.6h-0.5zM405.5 282.8h0.5V287.5h-0.5zM406.0 282.4h0.5V287.7h-0.5zM406.5 282.4h0.5V287.6h-0.5zM407.0 282.7h0.5V287.9h-0.5zM407.5 282.8h0.5V287.8h-0.5zM408.0 283.3h0.5V287.2h-0.5zM408.5 283.4h0.5V287.1h-0.5zM409.0 282.9h0.5V286.9h-0.5zM409.5 283.1h0.5V286.9h-0.5zM410.0 283.4h0.5V287.4h-0.5zM410.5 283.2h0.5V287.3h-0.5zM411.0 283.8h0.5V287.4h-0.5zM411.5 283.7h0.5V287.4h-0.5zM412.0 282.5h0.5V287.1h-0.5zM412.5 282.4h0.5V287.0h-0.5zM413.0 282.5h0.5V287.0h-0.5zM413.5 282.2h0.5V287.0h-0.5zM414.0 283.2h0.5V286.2h-0.5zM414.5 284.7h0.5V285.9h-0.5z" fill="#000080"/>
<text x="218.50" y="294.37" text-anchor="middle" font-size="5.75" fill="#888">0.00</text>
<text x="242.82" y="294.37" text-anchor="middle" font-size="5.75" fill="#888">5.00</text>
<text x="267.14" y="294.37" text-anchor="middle" font-size="5.75" fill="#888">10.00</text>
<text x="291.47" y="294.37" text-anchor="middle" font-size="5.75" fill="#888">15.00</text>
<text x="315.79" y="294.37" text-anchor="middle" font-size="5.75" fill="#888">20.00</text>
<text x="340.11" y="294.37" text-anchor="middle" font-size="5.75" fill="#888">25.00</text>
<text x="364.43" y="294.37" text-anchor="middle" font-size="5.75" fill="#888">30.00</text>
<text x="388.76" y="294.37" text-anchor="middle" font-size="5.75" fill="#888">35.00</text>
<text x="413.08" y="294.37" text-anchor="middle" font-size="5.75" fill="#888">40.00</text>
<text x="437.40" y="294.37" text-anchor="middle" font-size="5.75" fill="#888">45.00</text>
<rect x="352.6" y="304.5" width="315.8" height="191.8" fill="#fff" stroke="#000" stroke-width="1.40"/>
<rect x="401.5" y="335.4" width="254.0" height="151.0" fill="none" stroke="#808080" stroke-width="1"/>
<line x1="399.0" y1="335.40" x2="401.5" y2="335.40" stroke="#000" stroke-width="1"/>
<text x="395.7" y="337.42" text-anchor="end" font-size="6.45" fill="#000" stroke="#000" stroke-width="0.25">0.40000000</text>
<line x1="399.0" y1="356.30" x2="654.0" y2="356.30" stroke="#000" stroke-width="1.25"/>
<text x="395.7" y="358.32" text-anchor="end" font-size="6.45" fill="#000" stroke="#000" stroke-width="0.25">0.30000000</text>
<line x1="399.0" y1="378.50" x2="654.0" y2="378.50" stroke="#000" stroke-width="1.25"/>
<text x="395.7" y="380.52" text-anchor="end" font-size="6.45" fill="#000" stroke="#000" stroke-width="0.25">0.20000000</text>
<line x1="399.0" y1="398.80" x2="654.0" y2="398.80" stroke="#000" stroke-width="1.25"/>
<text x="395.7" y="400.82" text-anchor="end" font-size="6.45" fill="#000" stroke="#000" stroke-width="0.25">0.10000000</text>
<line x1="399.0" y1="421.40" x2="654.0" y2="421.40" stroke="#000" stroke-width="1.25"/>
<text x="395.7" y="423.42" text-anchor="end" font-size="6.45" fill="#000" stroke="#000" stroke-width="0.25">0.00000000</text>
<line x1="399.0" y1="443.10" x2="654.0" y2="443.10" stroke="#000" stroke-width="1.25"/>
<text x="395.7" y="445.12" text-anchor="end" font-size="6.45" fill="#000" stroke="#000" stroke-width="0.25">-0.10000000</text>
<line x1="399.0" y1="464.20" x2="654.0" y2="464.20" stroke="#000" stroke-width="1.25"/>
<text x="395.7" y="466.22" text-anchor="end" font-size="6.45" fill="#000" stroke="#000" stroke-width="0.25">-0.20000000</text>
<line x1="399.0" y1="486.30" x2="401.5" y2="486.30" stroke="#000" stroke-width="1"/>
<text x="395.7" y="488.32" text-anchor="end" font-size="6.45" fill="#000" stroke="#000" stroke-width="0.25">-0.30000000</text>
<line x1="401.5" y1="335.4" x2="401.5" y2="486.4" stroke="#000" stroke-width="1"/>
<line x1="401.50" y1="421.40" x2="401.50" y2="424.40" stroke="#000" stroke-width="1"/>
<line x1="429.72" y1="421.40" x2="429.72" y2="424.40" stroke="#000" stroke-width="1"/>
<line x1="457.94" y1="421.40" x2="457.94" y2="424.40" stroke="#000" stroke-width="1"/>
<line x1="486.17" y1="421.40" x2="486.17" y2="424.40" stroke="#000" stroke-width="1"/>
<line x1="514.39" y1="421.40" x2="514.39" y2="424.40" stroke="#000" stroke-width="1"/>
<line x1="542.61" y1="421.40" x2="542.61" y2="424.40" stroke="#000" stroke-width="1"/>
<line x1="570.83" y1="421.40" x2="570.83" y2="424.40" stroke="#000" stroke-width="1"/>
<line x1="599.06" y1="421.40" x2="599.06" y2="424.40" stroke="#000" stroke-width="1"/>
<line x1="627.28" y1="421.40" x2="627.28" y2="424.40" stroke="#000" stroke-width="1"/>
<line x1="655.50" y1="421.40" x2="655.50" y2="424.40" stroke="#000" stroke-width="1"/>
<text x="510.5" y="314.94" text-anchor="middle" font-size="6.50" fill="#000" stroke="#000" stroke-width="0.25" textLength="98.4" lengthAdjust="spacingAndGlyphs">TH_Irpinoa_Z_scalata_proporz(g)</text>
<path d="M401.0 419.1h0.5V423.4h-0.5zM401.5 419.1h0.5V423.4h-0.5zM402.0 418.1h0.5V424.7h-0.5zM402.5 417.4h0.5V425.6h-0.5zM403.0 416.3h0.5V426.9h-0.5zM403.5 416.3h0.5V426.9h-0.5zM404.0 414.0h0.5V427.5h-0.5zM404.5 414.0h0.5V427.9h-0.5zM405.0 416.9h0.5V428.6h-0.5zM405.5 416.9h0.5V428.6h-0.5zM406.0 416.2h0.5V428.9h-0.5zM406.5 415.8h0.5V429.0h-0.5zM407.0 415.1h0.5V429.2h-0.5zM407.5 415.1h0.5V429.4h-0.5zM408.0 416.0h0.5V429.7h-0.5zM408.5 416.6h0.5V429.7h-0.5zM409.0 417.4h0.5V431.2h-0.5zM409.5 417.4h0.5V432.2h-0.5zM410.0 412.3h0.5V433.7h-0.5zM410.5 412.3h0.5V433.7h-0.5zM411.0 411.1h0.5V441.7h-0.5zM411.5 411.1h0.5V441.7h-0.5zM412.0 407.7h0.5V433.1h-0.5zM412.5 407.7h0.5V433.1h-0.5zM413.0 413.4h0.5V434.3h-0.5zM413.5 413.4h0.5V434.3h-0.5zM414.0 390.0h0.5V437.1h-0.5zM414.5 390.0h0.5V437.1h-0.5zM415.0 391.1h0.5V440.6h-0.5zM415.5 391.1h0.5V440.6h-0.5zM416.0 400.9h0.5V444.0h-0.5zM416.5 400.9h0.5V444.0h-0.5zM417.0 392.3h0.5V457.1h-0.5zM417.5 392.3h0.5V457.1h-0.5zM418.0 391.1h0.5V455.4h-0.5zM418.5 391.1h0.5V455.4h-0.5zM419.0 413.4h0.5V458.0h-0.5zM419.5 413.4h0.5V459.7h-0.5zM420.0 388.3h0.5V462.3h-0.5zM420.5 388.3h0.5V462.3h-0.5zM421.0 386.9h0.5V479.4h-0.5zM421.5 386.9h0.5V479.4h-0.5zM422.0 384.4h0.5V456.3h-0.5zM422.5 382.8h0.5V456.3h-0.5zM423.0 380.3h0.5V448.6h-0.5zM423.5 380.3h0.5V448.6h-0.5zM424.0 420.3h0.5V464.0h-0.5zM424.5 420.3h0.5V464.0h-0.5zM425.0 364.3h0.5V452.2h-0.5zM425.5 364.3h0.5V444.4h-0.5zM426.0 396.3h0.5V432.6h-0.5zM426.5 396.3h0.5V432.6h-0.5zM427.0 395.1h0.5V473.1h-0.5zM427.5 395.1h0.5V473.1h-0.5zM428.0 371.1h0.5V448.6h-0.5zM428.5 371.1h0.5V448.6h-0.5zM429.0 392.3h0.5V445.7h-0.5zM429.5 392.3h0.5V445.7h-0.5zM430.0 389.5h0.5V444.0h-0.5zM430.5 387.6h0.5V442.9h-0.5zM431.0 384.9h0.5V441.1h-0.5zM431.5 384.9h0.5V441.1h-0.5zM432.0 402.0h0.5V446.3h-0.5zM432.5 402.0h0.5V446.3h-0.5zM433.0 377.4h0.5V453.1h-0.5zM433.5 377.4h0.5V453.1h-0.5zM434.0 415.7h0.5V456.6h-0.5zM434.5 415.7h0.5V456.6h-0.5zM435.0 391.1h0.5V461.1h-0.5zM435.5 391.1h0.5V461.1h-0.5zM436.0 402.0h0.5V471.4h-0.5zM436.5 402.0h0.5V471.4h-0.5zM437.0 400.7h0.5V441.7h-0.5zM437.5 399.9h0.5V441.7h-0.5zM438.0 398.6h0.5V433.7h-0.5zM438.5 398.6h0.5V433.7h-0.5zM439.0 390.0h0.5V450.3h-0.5zM439.5 390.0h0.5V450.3h-0.5zM440.0 400.9h0.5V440.6h-0.5zM440.5 400.9h0.5V440.6h-0.5zM441.0 407.7h0.5V441.0h-0.5zM441.5 407.7h0.5V441.3h-0.5zM442.0 413.4h0.5V441.7h-0.5zM442.5 413.4h0.5V441.7h-0.5zM443.0 413.4h0.5V441.3h-0.5zM443.5 413.4h0.5V441.0h-0.5zM444.0 413.4h0.5V440.6h-0.5zM444.5 413.4h0.5V440.6h-0.5zM445.0 395.1h0.5V433.7h-0.5zM445.5 395.1h0.5V433.7h-0.5zM446.0 412.3h0.5V439.4h-0.5zM446.5 412.3h0.5V439.4h-0.5zM447.0 398.6h0.5V426.9h-0.5zM447.5 398.6h0.5V426.9h-0.5zM448.0 392.9h0.5V442.9h-0.5zM448.5 392.9h0.5V442.9h-0.5zM449.0 404.9h0.5V454.1h-0.5zM449.5 404.9h0.5V454.1h-0.5zM450.0 398.6h0.5V452.4h-0.5zM450.5 398.6h0.5V451.3h-0.5zM451.0 347.1h0.5V449.7h-0.5zM451.5 347.1h0.5V449.7h-0.5zM452.0 382.6h0.5V466.3h-0.5zM452.5 382.6h0.5V466.3h-0.5zM453.0 392.9h0.5V460.0h-0.5zM453.5 392.9h0.5V460.0h-0.5zM454.0 371.1h0.5V445.7h-0.5zM454.5 371.1h0.5V445.7h-0.5zM455.0 384.9h0.5V434.9h-0.5zM455.5 384.9h0.5V434.9h-0.5zM456.0 379.1h0.5V454.3h-0.5zM456.5 379.1h0.5V454.3h-0.5zM457.0 398.6h0.5V465.7h-0.5zM457.5 398.6h0.5V465.7h-0.5zM458.0 412.3h0.5V472.6h-0.5zM458.5 412.3h0.5V472.6h-0.5zM459.0 391.7h0.5V464.6h-0.5zM459.5 391.7h0.5V464.6h-0.5zM460.0 380.9h0.5V453.1h-0.5zM460.5 380.9h0.5V453.1h-0.5zM461.0 390.0h0.5V472.6h-0.5zM461.5 390.0h0.5V472.6h-0.5zM462.0 395.1h0.5V468.0h-0.5zM462.5 395.1h0.5V468.0h-0.5zM463.0 396.0h0.5V432.6h-0.5zM463.5 396.6h0.5V432.6h-0.5zM464.0 397.4h0.5V458.3h-0.5zM464.5 397.4h0.5V458.3h-0.5zM465.0 396.9h0.5V447.8h-0.5zM465.5 396.9h0.5V440.8h-0.5zM466.0 389.1h0.5V430.3h-0.5zM466.5 389.1h0.5V430.3h-0.5zM467.0 396.3h0.5V441.7h-0.5zM467.5 396.3h0.5V441.7h-0.5zM468.0 393.4h0.5V445.7h-0.5zM468.5 393.4h0.5V445.7h-0.5zM469.0 406.6h0.5V440.6h-0.5zM469.5 406.6h0.5V440.6h-0.5zM470.0 398.6h0.5V439.3h-0.5zM470.5 398.6h0.5V438.4h-0.5zM471.0 395.0h0.5V437.1h-0.5zM471.5 392.6h0.5V437.1h-0.5zM472.0 389.1h0.5V436.7h-0.5zM472.5 389.1h0.5V436.4h-0.5zM473.0 408.9h0.5V436.0h-0.5zM473.5 408.9h0.5V436.0h-0.5zM474.0 408.9h0.5V437.1h-0.5zM474.5 408.9h0.5V437.1h-0.5zM475.0 408.9h0.5V441.9h-0.5zM475.5 408.9h0.5V441.9h-0.5zM476.0 415.1h0.5V428.8h-0.5zM476.5 415.1h0.5V428.8h-0.5zM477.0 405.7h0.5V438.2h-0.5zM477.5 405.7h0.5V438.2h-0.5zM478.0 414.1h0.5V435.4h-0.5zM478.5 414.1h0.5V433.6h-0.5zM479.0 407.8h0.5V430.9h-0.5zM479.5 407.8h0.5V430.9h-0.5zM480.0 413.0h0.5V432.4h-0.5zM480.5 413.0h0.5V433.5h-0.5zM481.0 406.8h0.5V435.0h-0.5zM481.5 406.8h0.5V435.0h-0.5zM482.0 418.3h0.5V429.8h-0.5zM482.5 418.3h0.5V429.8h-0.5zM483.0 409.4h0.5V429.4h-0.5zM483.5 409.4h0.5V429.2h-0.5zM484.0 416.2h0.5V428.9h-0.5zM484.5 416.2h0.5V428.6h-0.5zM485.0 414.6h0.5V428.2h-0.5zM485.5 413.6h0.5V428.2h-0.5zM486.0 412.0h0.5V427.9h-0.5zM486.5 412.0h0.5V427.7h-0.5zM487.0 416.2h0.5V427.6h-0.5zM487.5 416.2h0.5V427.4h-0.5zM488.0 412.5h0.5V427.2h-0.5zM488.5 412.5h0.5V427.0h-0.5zM489.0 413.7h0.5V426.7h-0.5zM489.5 414.5h0.5V426.7h-0.5zM490.0 415.7h0.5V426.6h-0.5zM490.5 415.7h0.5V426.5h-0.5zM491.0 416.2h0.5V426.4h-0.5zM491.5 416.5h0.5V426.4h-0.5zM492.0 416.9h0.5V426.3h-0.5zM492.5 417.2h0.5V426.2h-0.5zM493.0 417.8h0.5V426.1h-0.5zM493.5 417.8h0.5V426.1h-0.5zM494.0 416.5h0.5V424.8h-0.5zM494.5 415.6h0.5V423.9h-0.5zM495.0 414.7h0.5V422.5h-0.5zM495.5 413.8h0.5V422.5h-0.5zM496.0 412.5h0.5V426.7h-0.5zM496.5 412.5h0.5V426.7h-0.5zM497.0 414.5h0.5V425.9h-0.5zM497.5 415.8h0.5V425.4h-0.5zM498.0 417.8h0.5V424.6h-0.5zM498.5 417.8h0.5V424.6h-0.5zM499.0 416.7h0.5V428.8h-0.5zM499.5 416.0h0.5V428.8h-0.5zM500.0 415.3h0.5V429.5h-0.5zM500.5 414.6h0.5V430.1h-0.5zM501.0 413.6h0.5V430.9h-0.5zM501.5 413.6h0.5V430.9h-0.5zM502.0 416.7h0.5V426.7h-0.5zM502.5 416.7h0.5V426.7h-0.5zM503.0 415.9h0.5V430.3h-0.5zM503.5 415.4h0.5V430.3h-0.5zM504.0 414.6h0.5V428.9h-0.5zM504.5 414.6h0.5V427.9h-0.5zM505.0 415.7h0.5V426.5h-0.5zM505.5 416.4h0.5V426.5h-0.5zM506.0 417.4h0.5V426.5h-0.5zM506.5 417.4h0.5V426.5h-0.5zM507.0 417.6h0.5V426.5h-0.5zM507.5 417.7h0.5V426.5h-0.5zM508.0 417.8h0.5V426.5h-0.5zM508.5 417.9h0.5V426.5h-0.5zM509.0 418.1h0.5V426.5h-0.5zM509.5 418.1h0.5V426.5h-0.5zM510.0 417.3h0.5V426.5h-0.5zM510.5 416.9h0.5V426.5h-0.5zM511.0 416.4h0.5V426.5h-0.5zM511.5 415.9h0.5V426.5h-0.5zM512.0 415.1h0.5V426.5h-0.5zM512.5 415.1h0.5V426.5h-0.5zM513.0 416.1h0.5V426.5h-0.5zM513.5 416.8h0.5V426.5h-0.5zM514.0 417.8h0.5V426.5h-0.5zM514.5 417.8h0.5V426.5h-0.5zM515.0 417.8h0.5V426.5h-0.5zM515.5 417.8h0.5V426.5h-0.5zM516.0 417.8h0.5V426.5h-0.5zM516.5 417.8h0.5V426.5h-0.5zM517.0 417.8h0.5V426.5h-0.5zM517.5 417.8h0.5V426.5h-0.5zM518.0 417.8h0.5V426.5h-0.5zM518.5 417.8h0.5V426.5h-0.5zM519.0 417.8h0.5V426.5h-0.5zM519.5 417.8h0.5V426.5h-0.5zM520.0 416.1h0.5V426.0h-0.5zM520.5 416.1h0.5V425.6h-0.5zM521.0 416.3h0.5V425.2h-0.5zM521.5 417.1h0.5V424.5h-0.5zM522.0 417.6h0.5V424.6h-0.5zM522.5 417.7h0.5V424.8h-0.5zM523.0 417.6h0.5V424.6h-0.5zM523.5 417.6h0.5V424.7h-0.5zM524.0 418.6h0.5V423.6h-0.5zM524.5 418.6h0.5V423.7h-0.5zM525.0 418.5h0.5V424.3h-0.5zM525.5 418.4h0.5V424.1h-0.5zM526.0 418.3h0.5V424.8h-0.5zM526.5 418.3h0.5V424.7h-0.5zM527.0 417.3h0.5V424.2h-0.5zM527.5 417.3h0.5V424.2h-0.5zM528.0 417.2h0.5V424.4h-0.5zM528.5 417.2h0.5V424.5h-0.5zM529.0 417.6h0.5V423.5h-0.5zM529.5 417.6h0.5V423.5h-0.5zM530.0 417.2h0.5V425.0h-0.5zM530.5 417.3h0.5V425.0h-0.5zM531.0 418.1h0.5V424.6h-0.5zM531.5 418.2h0.5V424.6h-0.5zM532.0 418.1h0.5V423.8h-0.5zM532.5 418.1h0.5V423.8h-0.5zM533.0 417.9h0.5V424.1h-0.5zM533.5 417.8h0.5V424.1h-0.5zM534.0 419.0h0.5V424.4h-0.5zM534.5 418.9h0.5V424.5h-0.5zM535.0 417.6h0.5V424.7h-0.5zM535.5 417.6h0.5V424.7h-0.5zM536.0 417.5h0.5V426.5h-0.5zM536.5 417.5h0.5V426.5h-0.5zM537.0 417.9h0.5V425.2h-0.5zM537.5 417.8h0.5V425.2h-0.5zM538.0 417.8h0.5V426.0h-0.5zM538.5 417.7h0.5V425.6h-0.5zM539.0 417.0h0.5V425.2h-0.5zM539.5 417.0h0.5V425.0h-0.5zM540.0 417.5h0.5V423.8h-0.5zM540.5 417.6h0.5V423.8h-0.5zM541.0 418.8h0.5V423.9h-0.5zM541.5 418.9h0.5V423.8h-0.5zM542.0 418.2h0.5V423.7h-0.5zM542.5 418.2h0.5V423.7h-0.5zM543.0 418.5h0.5V423.3h-0.5zM543.5 418.5h0.5V423.3h-0.5zM544.0 419.3h0.5V423.7h-0.5zM544.5 419.3h0.5V423.7h-0.5zM545.0 418.3h0.5V424.3h-0.5zM545.5 418.3h0.5V424.3h-0.5zM546.0 418.3h0.5V423.7h-0.5zM546.5 418.4h0.5V423.7h-0.5zM547.0 418.6h0.5V424.0h-0.5zM547.5 418.7h0.5V424.0h-0.5zM548.0 418.8h0.5V423.5h-0.5zM548.5 418.8h0.5V423.5h-0.5zM549.0 418.2h0.5V423.6h-0.5zM549.5 418.2h0.5V423.6h-0.5zM550.0 418.0h0.5V424.7h-0.5zM550.5 418.0h0.5V424.7h-0.5zM551.0 419.4h0.5V424.0h-0.5zM551.5 419.4h0.5V424.0h-0.5zM552.0 418.1h0.5V424.7h-0.5zM552.5 418.1h0.5V424.7h-0.5zM553.0 418.7h0.5V423.7h-0.5zM553.5 418.6h0.5V424.1h-0.5zM554.0 419.0h0.5V425.3h-0.5zM554.5 419.1h0.5V425.3h-0.5zM555.0 419.1h0.5V424.6h-0.5zM555.5 419.1h0.5V424.6h-0.5zM556.0 419.3h0.5V424.4h-0.5zM556.5 419.3h0.5V424.4h-0.5zM557.0 418.1h0.5V423.7h-0.5zM557.5 418.1h0.5V423.6h-0.5zM558.0 418.2h0.5V424.2h-0.5zM558.5 418.2h0.5V424.1h-0.5zM559.0 418.1h0.5V424.3h-0.5zM559.5 418.0h0.5V424.3h-0.5zM560.0 419.0h0.5V424.8h-0.5zM560.5 419.0h0.5V424.9h-0.5zM561.0 418.6h0.5V423.6h-0.5zM561.5 418.1h0.5V423.7h-0.5zM562.0 418.7h0.5V424.7h-0.5zM562.5 418.7h0.5V424.7h-0.5zM563.0 417.1h0.5V424.5h-0.5zM563.5 416.7h0.5V424.6h-0.5zM564.0 417.2h0.5V424.9h-0.5zM564.5 417.2h0.5V425.0h-0.5zM565.0 418.0h0.5V426.3h-0.5zM565.5 418.0h0.5V426.3h-0.5zM566.0 418.2h0.5V426.4h-0.5zM566.5 418.0h0.5V426.7h-0.5zM567.0 415.6h0.5V425.0h-0.5zM567.5 415.3h0.5V425.2h-0.5zM568.0 414.8h0.5V426.9h-0.5zM568.5 414.8h0.5V427.1h-0.5zM569.0 416.7h0.5V425.9h-0.5zM569.5 416.7h0.5V425.7h-0.5zM570.0 417.9h0.5V425.7h-0.5zM570.5 417.9h0.5V425.7h-0.5zM571.0 416.8h0.5V426.1h-0.5zM571.5 417.0h0.5V426.0h-0.5zM572.0 418.4h0.5V425.5h-0.5zM572.5 418.6h0.5V425.4h-0.5zM573.0 418.8h0.5V424.5h-0.5zM573.5 418.8h0.5V424.1h-0.5zM574.0 419.1h0.5V425.1h-0.5zM574.5 419.1h0.5V425.1h-0.5zM575.0 418.8h0.5V425.1h-0.5zM575.5 418.9h0.5V425.0h-0.5zM576.0 418.9h0.5V423.8h-0.5zM576.5 419.0h0.5V423.7h-0.5zM577.0 418.5h0.5V423.6h-0.5zM577.5 418.4h0.5V423.6h-0.5zM578.0 418.6h0.5V424.8h-0.5zM578.5 418.5h0.5V424.9h-0.5zM579.0 417.5h0.5V424.7h-0.5zM579.5 417.4h0.5V424.7h-0.5zM580.0 417.8h0.5V424.9h-0.5zM580.5 417.8h0.5V424.9h-0.5zM581.0 417.6h0.5V424.3h-0.5zM581.5 417.8h0.5V424.4h-0.5zM582.0 418.3h0.5V423.6h-0.5zM582.5 418.5h0.5V423.6h-0.5zM583.0 418.8h0.5V424.2h-0.5zM583.5 418.8h0.5V424.2h-0.5zM584.0 418.7h0.5V424.5h-0.5zM584.5 418.7h0.5V424.5h-0.5zM585.0 419.4h0.5V423.5h-0.5zM585.5 419.4h0.5V423.4h-0.5zM586.0 418.5h0.5V423.6h-0.5zM586.5 418.5h0.5V423.5h-0.5zM587.0 419.1h0.5V423.8h-0.5zM587.5 419.1h0.5V423.8h-0.5zM588.0 419.3h0.5V424.4h-0.5zM588.5 419.3h0.5V424.4h-0.5zM589.0 418.4h0.5V423.6h-0.5zM589.5 418.3h0.5V423.6h-0.5zM590.0 418.7h0.5V423.6h-0.5zM590.5 418.7h0.5V423.6h-0.5zM591.0 418.8h0.5V423.7h-0.5zM591.5 418.8h0.5V423.7h-0.5zM592.0 419.3h0.5V423.4h-0.5zM592.5 419.3h0.5V423.3h-0.5zM593.0 419.2h0.5V424.3h-0.5zM593.5 419.2h0.5V424.3h-0.5zM594.0 418.8h0.5V423.4h-0.5zM594.5 418.8h0.5V423.3h-0.5zM595.0 418.2h0.5V424.3h-0.5zM595.5 418.3h0.5V424.3h-0.5zM596.0 419.0h0.5V423.2h-0.5zM596.5 419.0h0.5V423.2h-0.5zM597.0 419.4h0.5V423.1h-0.5zM597.5 419.4h0.5V423.1h-0.5zM598.0 419.2h0.5V423.1h-0.5zM598.5 419.2h0.5V423.1h-0.5zM599.0 419.4h0.5V423.2h-0.5zM599.5 419.4h0.5V423.2h-0.5zM600.0 419.0h0.5V424.0h-0.5zM600.5 419.0h0.5V424.0h-0.5zM601.0 418.8h0.5V423.4h-0.5zM601.5 418.8h0.5V423.4h-0.5zM602.0 419.3h0.5V423.5h-0.5zM602.5 419.3h0.5V423.5h-0.5zM603.0 419.3h0.5V423.2h-0.5zM603.5 419.4h0.5V423.2h-0.5zM604.0 419.8h0.5V423.1h-0.5zM604.5 419.8h0.5V423.1h-0.5zM605.0 418.7h0.5V422.9h-0.5zM605.5 418.7h0.5V422.9h-0.5zM606.0 419.3h0.5V423.4h-0.5zM606.5 419.3h0.5V423.4h-0.5zM607.0 418.9h0.5V422.9h-0.5zM607.5 418.9h0.5V422.9h-0.5zM608.0 419.6h0.5V422.9h-0.5zM608.5 419.6h0.5V422.9h-0.5zM609.0 419.4h0.5V423.1h-0.5zM609.5 419.5h0.5V423.1h-0.5zM610.0 418.8h0.5V423.4h-0.5zM610.5 418.8h0.5V423.4h-0.5zM611.0 418.9h0.5V422.6h-0.5zM611.5 418.9h0.5V422.6h-0.5zM612.0 419.9h0.5V423.3h-0.5zM612.5 419.9h0.5V423.3h-0.5zM613.0 418.9h0.5V423.1h-0.5zM613.5 418.9h0.5V423.1h-0.5zM614.0 419.2h0.5V422.7h-0.5zM614.5 419.2h0.5V422.7h-0.5zM615.0 419.4h0.5V423.7h-0.5zM615.5 419.4h0.5V423.7h-0.5zM616.0 418.9h0.5V423.6h-0.5zM616.5 418.9h0.5V423.7h-0.5zM617.0 418.7h0.5V423.0h-0.5zM617.5 418.7h0.5V423.1h-0.5zM618.0 419.7h0.5V423.0h-0.5zM618.5 419.8h0.5V423.0h-0.5zM619.0 419.3h0.5V423.5h-0.5zM619.5 419.3h0.5V423.5h-0.5zM620.0 418.8h0.5V423.6h-0.5zM620.5 418.8h0.5V423.6h-0.5zM621.0 419.2h0.5V423.6h-0.5zM621.5 419.2h0.5V423.6h-0.5zM622.0 419.4h0.5V423.4h-0.5zM622.5 419.4h0.5V423.4h-0.5zM623.0 419.9h0.5V423.7h-0.5zM623.5 419.9h0.5V423.7h-0.5zM624.0 419.7h0.5V423.9h-0.5zM624.5 419.7h0.5V423.9h-0.5zM625.0 419.2h0.5V423.2h-0.5zM625.5 419.2h0.5V423.2h-0.5zM626.0 419.8h0.5V423.2h-0.5zM626.5 419.8h0.5V423.2h-0.5zM627.0 419.2h0.5V423.8h-0.5zM627.5 419.8h0.5V422.6h-0.5zM628.0 420.7h0.5V422.0h-0.5zM628.5 420.7h0.5V422.0h-0.5z" fill="#000080"/>
<text x="401.50" y="432.22" text-anchor="middle" font-size="6.45" fill="#000" stroke="#000" stroke-width="0.25">0.00</text>
<text x="429.72" y="432.22" text-anchor="middle" font-size="6.45" fill="#000" stroke="#000" stroke-width="0.25">5.00</text>
<text x="457.94" y="432.22" text-anchor="middle" font-size="6.45" fill="#000" stroke="#000" stroke-width="0.25">10.00</text>
<text x="486.17" y="432.22" text-anchor="middle" font-size="6.45" fill="#000" stroke="#000" stroke-width="0.25">15.00</text>
<text x="514.39" y="432.22" text-anchor="middle" font-size="6.45" fill="#000" stroke="#000" stroke-width="0.25">20.00</text>
<text x="542.61" y="432.22" text-anchor="middle" font-size="6.45" fill="#000" stroke="#000" stroke-width="0.25">25.00</text>
<text x="570.83" y="432.22" text-anchor="middle" font-size="6.45" fill="#000" stroke="#000" stroke-width="0.25">30.00</text>
<text x="599.06" y="432.22" text-anchor="middle" font-size="6.45" fill="#000" stroke="#000" stroke-width="0.25">35.00</text>
<text x="627.28" y="432.22" text-anchor="middle" font-size="6.45" fill="#000" stroke="#000" stroke-width="0.25">40.00</text>
<text x="655.50" y="432.22" text-anchor="middle" font-size="6.45" fill="#000" stroke="#000" stroke-width="0.25">45.00</text>
</svg>
<div class="ftr">gerardo.decanio@enea.it</div>
</body></html>
